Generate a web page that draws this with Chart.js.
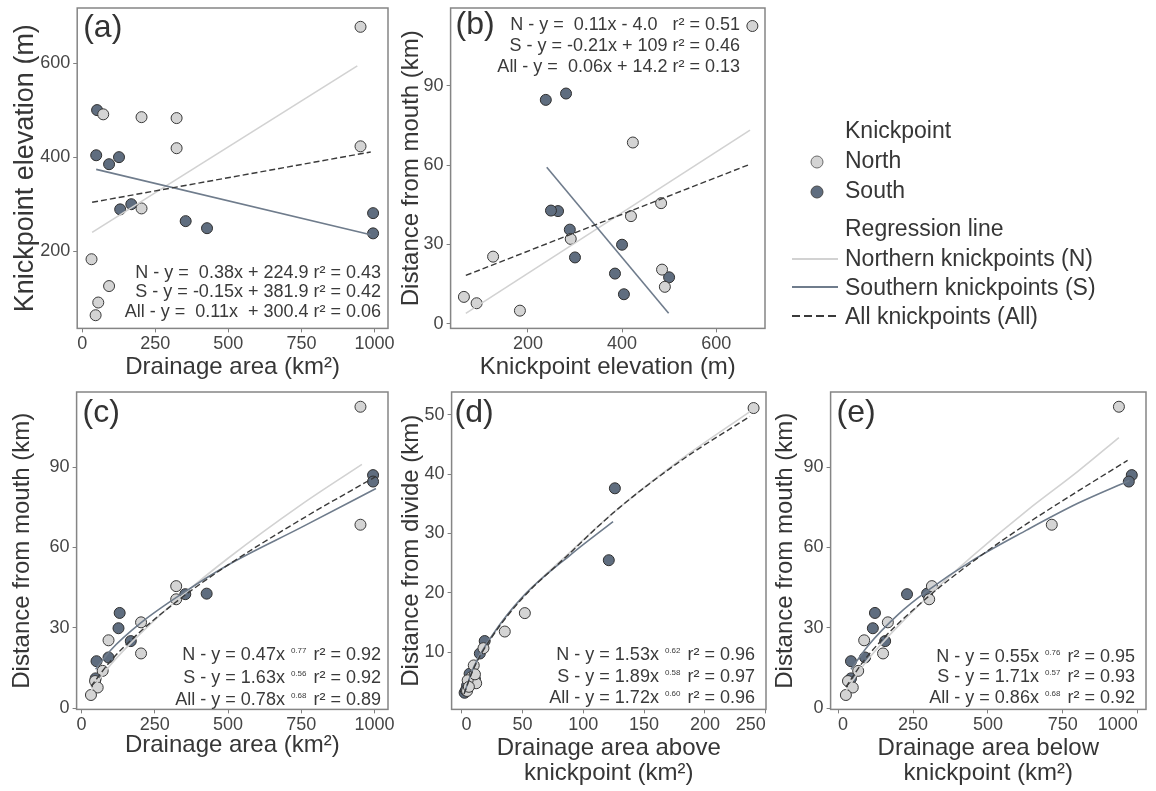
<!DOCTYPE html>
<html>
<head>
<meta charset="utf-8">
<script src="https://cdn.jsdelivr.net/npm/chart.js@4.4.1/dist/chart.umd.min.js"></script>
<style>
  html, body { margin: 0; padding: 0; background: #fff; overflow: hidden; width: 1156px; height: 791px; }
  body { position: relative; font-family: "Liberation Sans", Arial, sans-serif; color: #363636; }
  canvas { position: absolute; }
  .lg { position: absolute; font-size: 23px; line-height: 24px; white-space: nowrap; }
  #glyphs { position: absolute; left: 0; top: 0; }
</style>
</head>
<body>
<canvas id="pa"></canvas>
<canvas id="pb"></canvas>
<canvas id="pc"></canvas>
<canvas id="pd"></canvas>
<canvas id="pe"></canvas>

<svg id="glyphs" width="1156" height="791">
  <circle cx="817" cy="162" r="6" fill="#d4d4d4" stroke="#6a6a6a" stroke-width="1"/>
  <circle cx="817" cy="192" r="6" fill="#5f6d7f" stroke="#4a4a4a" stroke-width="1"/>
  <line x1="792" y1="259" x2="838" y2="259" stroke="#d2d2d2" stroke-width="2"/>
  <line x1="792" y1="287" x2="838" y2="287" stroke="#6f7c8c" stroke-width="2"/>
  <line x1="792" y1="316" x2="838" y2="316" stroke="#3a3a3a" stroke-width="2" stroke-dasharray="8 4"/>
</svg>
<div class="lg" style="left:845px;top:118px">Knickpoint</div>
<div class="lg" style="left:845px;top:148px">North</div>
<div class="lg" style="left:845px;top:178px">South</div>
<div class="lg" style="left:845px;top:216px">Regression line</div>
<div class="lg" style="left:845px;top:246px">Northern knickpoints (N)</div>
<div class="lg" style="left:845px;top:275px">Southern knickpoints (S)</div>
<div class="lg" style="left:845px;top:304px">All knickpoints (All)</div>

<script>
// knickpoints, same order in each north / south array
const northArea = [952, 952, 323, 323, 203, 203, 92, 72, 46, 55, 32];
const northElev = [677, 423, 483, 419, 291, 485, 126, 491, 64, 91, 183];
const northDist = [112.5, 68.5, 45.6, 40.7, 32.1, 20.5, 25.4, 14.0, 10.2, 7.8, 5.0];
const northAreaBelow = [937, 713, 313, 304, 166, 150, 87, 67, 33, 49, 26];
const northAreaAbove = [240, 52, 35.5, 18, 10, 8, 12, 4.5, 5, 11, 6];
const northDistDivide = [51.1, 16.6, 13.5, 10.7, 7.8, 5.8, 4.8, 3.5, 5.3, 6.3, 4.2];

const southArea = [51, 48, 92, 126, 130, 168, 354, 427, 995, 995];
const southElev = [500, 404, 385, 400, 289, 300, 264, 249, 281, 238];
const southDist = [17.6, 11.2, 19.0, 29.9, 35.6, 25.1, 42.6, 42.8, 87.0, 84.6];
const southAreaBelow = [43, 43, 90, 116, 123, 157, 230, 297, 980, 970];
const southAreaAbove = [126, 121, 19, 15, 6.6, 9, 4.5, 2.5, 3.5, 11];
const southDistDivide = [37.6, 25.5, 11.9, 9.8, 6.4, 5.8, 4.4, 3.2, 3.6, 5.5];

// fitted lines
const aFitNX = [34, 941], aFitNY = [240, 594];
const aFitSX = [48, 987], aFitSY = [374, 235];
const aFitAllX = [34, 987], aFitAllY = [304, 411];

const bFitNX = [68, 672], bFitNY = [4.0, 73.2];
const bFitSX = [240, 499], bFitSY = [59.2, 4.0];
const bFitAllX = [68, 672], bFitAllY = [18.3, 60.3];

const cFitNX = [32, 100, 200, 350, 500, 750, 957];
const cFitNY = [6.6, 16.4, 27.8, 42.7, 56, 76, 91];
const cFitSX = [48, 100, 200, 350, 500, 750, 1005];
const cFitSY = [14.6, 21.8, 31.7, 43.3, 53.5, 67.5, 82];
const cFitAllX = [32, 100, 200, 350, 500, 750, 1005];
const cFitAllY = [8.2, 17.8, 28.6, 42, 53.5, 70.5, 86.5];

const dFitNX = [4.5, 10, 25, 50, 90, 126, 180, 237];
const dFitNY = [4.3, 7.5, 12.7, 19.2, 27, 33.7, 42.4, 50.5];
const dFitSX = [2.5, 10, 25, 50, 90, 124.5];
const dFitSY = [3.3, 7.5, 12.8, 19.3, 26.5, 32.0];
const dFitAllX = [2, 10, 25, 50, 86, 126, 180, 237];
const dFitAllY = [3.0, 7.3, 12.6, 19.1, 26.1, 33.7, 42.2, 49.7];

const eFitNX = [26, 80, 140, 300, 450, 629, 800, 937];
const eFitNY = [6.5, 15.4, 23.5, 41.8, 57, 73.7, 88.4, 101];
const eFitSX = [43, 100, 200, 300, 450, 629, 800, 972];
const eFitSY = [14.6, 23.4, 35, 44, 55.3, 66.5, 76.5, 85];
const eFitAllX = [26, 80, 150, 300, 450, 629, 800, 966];
const eFitAllY = [7.9, 16.9, 26, 41.6, 54.8, 68.8, 81, 92.5];

// tick labels
const areaTicks = [0, 250, 500, 750, 1000];
const elevTicks = [200, 400, 600];
const elevTicksB = [200, 400, 600];
const distTicks = [0, 30, 60, 90];
const aboveTicks = [0, 50, 100, 150, 200, 250];
const divideTicks = [10, 20, 30, 40, 50];

// equation texts
const eqA = [['N - y =  0.38x + 224.9 r² = 0.43'], ['S - y = -0.15x + 381.9 r² = 0.42'], ['All - y =  0.11x  + 300.4 r² = 0.06']];
const eqB = [['N - y =  0.11x - 4.0   r² = 0.51'], ['S - y = -0.21x + 109 r² = 0.46'], ['All - y =  0.06x + 14.2 r² = 0.13']];
const eqC = [['N - y = 0.47x', '0.77', 'r² = 0.92'], ['S - y = 1.63x', '0.56', 'r² = 0.92'], ['All - y = 0.78x', '0.68', 'r² = 0.89']];
const eqD = [['N - y = 1.53x', '0.62', 'r² = 0.96'], ['S - y = 1.89x', '0.58', 'r² = 0.97'], ['All - y = 1.72x', '0.60', 'r² = 0.96']];
const eqE = [['N - y = 0.55x', '0.76', 'r² = 0.95'], ['S - y = 1.71x', '0.57', 'r² = 0.93'], ['All - y = 0.86x', '0.68', 'r² = 0.92']];

const FAM = '"Liberation Sans", Arial, sans-serif';
const PAD = 20;
Chart.defaults.font.family = FAM;
Chart.defaults.color = '#404040';

const pts = (xs, ys) => xs.map((x, i) => ({ x: x, y: ys[i] }));

function drawEq(ctx, parts, xr, y) {
  ctx.textBaseline = 'middle';
  const main = '18px ' + FAM, sup = '8px ' + FAM;
  if (parts.length === 1) {
    ctx.font = main; ctx.textAlign = 'right';
    ctx.fillText(parts[0], xr, y);
    return;
  }
  ctx.font = main;
  const w0 = ctx.measureText(parts[0]).width, w2 = ctx.measureText(parts[2]).width;
  ctx.font = sup;
  const w1 = ctx.measureText(parts[1]).width;
  const x = xr - (w0 + 6 + w1 + 7 + w2);
  ctx.textAlign = 'left';
  ctx.font = main; ctx.fillText(parts[0], x, y);
  ctx.font = sup; ctx.fillText(parts[1], x + w0 + 6, y - 5);
  ctx.font = main; ctx.fillText(parts[2], x + w0 + 6 + w1 + 7, y);
}

// box, panel letter and equations
const frame = {
  id: 'frame',
  afterDatasetsDraw(chart, args, o) {
    const { ctx, chartArea: c } = chart;
    ctx.save();
    ctx.strokeStyle = '#858585';
    ctx.lineWidth = 1.5;
    ctx.strokeRect(c.left, c.top, c.right - c.left, c.bottom - c.top);
    ctx.fillStyle = '#333';
    ctx.font = '32px ' + FAM;
    ctx.textAlign = 'left';
    ctx.textBaseline = 'middle';
    ctx.fillText(o.tag, c.left + o.tagDx, c.top + o.tagDy);
    ctx.fillStyle = '#3a3a3a';
    o.eq.forEach((parts, i) => drawEq(ctx, parts, c.right - o.eqRight, (o.eqFromTop ? c.top : c.bottom) + o.eqY[i]));
    ctx.restore();
  }
};

function scatterSets(nx, ny, sx, sy) {
  return [
    { data: pts(nx, ny), backgroundColor: '#d4d4d4', borderColor: '#383838', borderWidth: 1, pointRadius: 5.5, order: 1 },
    { data: pts(sx, sy), backgroundColor: '#5f6d7f', borderColor: '#2f2f2f', borderWidth: 1, pointRadius: 5.5, order: 1 }
  ];
}

function fitSets(nx, ny, sx, sy, ax, ay, curved) {
  const base = { showLine: true, pointRadius: 0, fill: false, cubicInterpolationMode: curved ? 'monotone' : 'default' };
  return [
    Object.assign({ data: pts(nx, ny), borderColor: '#d2d2d2', borderWidth: 1.6, order: 0.3 }, base),
    Object.assign({ data: pts(sx, sy), borderColor: '#6f7c8c', borderWidth: 1.6, order: 0.2 }, base),
    Object.assign({ data: pts(ax, ay), borderColor: '#3a3a3a', borderWidth: 1.4, borderDash: [6, 3], order: 0.1 }, base)
  ];
}

function makePanel(id, p) {
  const cv = document.getElementById(id);
  const w = Math.round((p.R - p.L) + p.wy + 2 * PAD), h = Math.round((p.B - p.T) + p.hx + 2 * PAD);
  cv.width = w; cv.height = h;
  cv.style.width = w + 'px'; cv.style.height = h + 'px';
  cv.style.left = (p.L - p.wy - PAD) + 'px';
  cv.style.top = (p.T - PAD) + 'px';
  const grid = { drawOnChartArea: false, tickLength: 4, color: '#808080', lineWidth: 1 };
  new Chart(cv, {
    type: 'scatter',
    data: { datasets: p.datasets },
    options: {
      responsive: false,
      animation: false,
      devicePixelRatio: 1,
      layout: { padding: PAD },
      plugins: { legend: { display: false }, tooltip: { enabled: false }, frame: p.frame },
      scales: {
        x: {
          type: 'linear', position: 'bottom', min: p.xMin, max: p.xMax,
          afterBuildTicks: s => { s.ticks = p.xTicks.map(v => ({ value: v })); },
          afterFit: s => { s.height = p.hx; },
          grid: grid, border: { display: false },
          ticks: { font: { size: 18 }, color: '#454545', padding: 1, maxRotation: 0, autoSkip: false,
                   align: p.xAlign || 'center', callback: v => String(v) },
          title: { display: true, text: p.xTitle, font: { size: 24, lineHeight: 1.05 }, color: '#363636', padding: 0 }
        },
        y: {
          type: 'linear', position: 'left', min: p.yMin, max: p.yMax,
          afterBuildTicks: s => { s.ticks = p.yTicks.map(v => ({ value: v })); },
          afterFit: s => { s.width = p.wy; },
          grid: grid, border: { display: false },
          ticks: { font: { size: 18 }, color: '#454545', padding: 3, autoSkip: false, callback: v => String(v) },
          title: { display: true, text: p.yTitle, font: { size: p.yTitleSize || 24, lineHeight: 1.05 }, color: '#363636', padding: 0 }
        }
      }
    },
    plugins: [frame]
  });
}

makePanel('pa', {
  L: 77, R: 388, T: 8, B: 328, wy: 66.2, hx: 51.6,
  xMin: -17, xMax: 1046, xTicks: areaTicks, xTitle: 'Drainage area (km²)',
  yMin: 36, yMax: 717, yTicks: elevTicks, yTitle: 'Knickpoint elevation (m)', yTitleSize: 27,
  datasets: scatterSets(northArea, northElev, southArea, southElev)
    .concat(fitSets(aFitNX, aFitNY, aFitSX, aFitSY, aFitAllX, aFitAllY, false)),
  frame: { tag: '(a)', tagDx: 6, tagDy: 20, eq: eqA, eqRight: 7, eqY: [-55, -36, -16] }
});

makePanel('pb', {
  L: 451, R: 765, T: 8, B: 328, wy: 51.6, hx: 51.6,
  xMin: 35.7, xMax: 703.8, xTicks: elevTicksB, xTitle: 'Knickpoint elevation (m)',
  yMin: -1.7, yMax: 119.3, yTicks: distTicks, yTitle: 'Distance from mouth (km)',
  datasets: scatterSets(northElev, northDist, southElev, southDist)
    .concat(fitSets(bFitNX, bFitNY, bFitSX, bFitSY, bFitAllX, bFitAllY, false)),
  frame: { tag: '(b)', tagDx: 5, tagDy: 17, eq: eqB, eqRight: 25, eqFromTop: true, eqY: [17, 38, 59] }
});

makePanel('pc', {
  L: 77, R: 388, T: 392, B: 709, wy: 66.6, hx: 48.6,
  xMin: -17, xMax: 1046, xTicks: areaTicks, xTitle: 'Drainage area (km²)',
  yMin: -0.37, yMax: 118, yTicks: distTicks, yTitle: 'Distance from mouth (km)',
  datasets: scatterSets(northArea, northDist, southArea, southDist)
    .concat(fitSets(cFitNX, cFitNY, cFitSX, cFitSY, cFitAllX, cFitAllY, true)),
  frame: { tag: '(c)', tagDx: 6, tagDy: 21, eq: eqC, eqRight: 7, eqY: [-54, -31, -9] }
});

makePanel('pd', {
  L: 452, R: 766, T: 392, B: 709, wy: 52.6, hx: 76.6,
  xMin: -8.2, xMax: 250.2, xTicks: aboveTicks, xAlign: 'inner', xTitle: ['Drainage area above', 'knickpoint (km²)'],
  yMin: 0.4, yMax: 53.8, yTicks: divideTicks, yTitle: 'Distance from divide (km)',
  datasets: scatterSets(northAreaAbove, northDistDivide, southAreaAbove, southDistDivide)
    .concat(fitSets(dFitNX, dFitNY, dFitSX, dFitSY, dFitAllX, dFitAllY, true)),
  frame: { tag: '(d)', tagDx: 3, tagDy: 21, eq: eqD, eqRight: 11, eqY: [-54, -32, -11] }
});

makePanel('pe', {
  L: 831, R: 1146, T: 392, B: 709, wy: 57.6, hx: 76.6,
  xMin: -25, xMax: 1027.4, xTicks: areaTicks, xAlign: 'inner', xTitle: ['Drainage area below', 'knickpoint (km²)'],
  yMin: -0.37, yMax: 118, yTicks: distTicks, yTitle: 'Distance from mouth (km)',
  datasets: scatterSets(northAreaBelow, northDist, southAreaBelow, southDist)
    .concat(fitSets(eFitNX, eFitNY, eFitSX, eFitSY, eFitAllX, eFitAllY, true)),
  frame: { tag: '(e)', tagDx: 6, tagDy: 21, eq: eqE, eqRight: 11, eqY: [-52, -32, -11] }
});
</script>
</body>
</html>
